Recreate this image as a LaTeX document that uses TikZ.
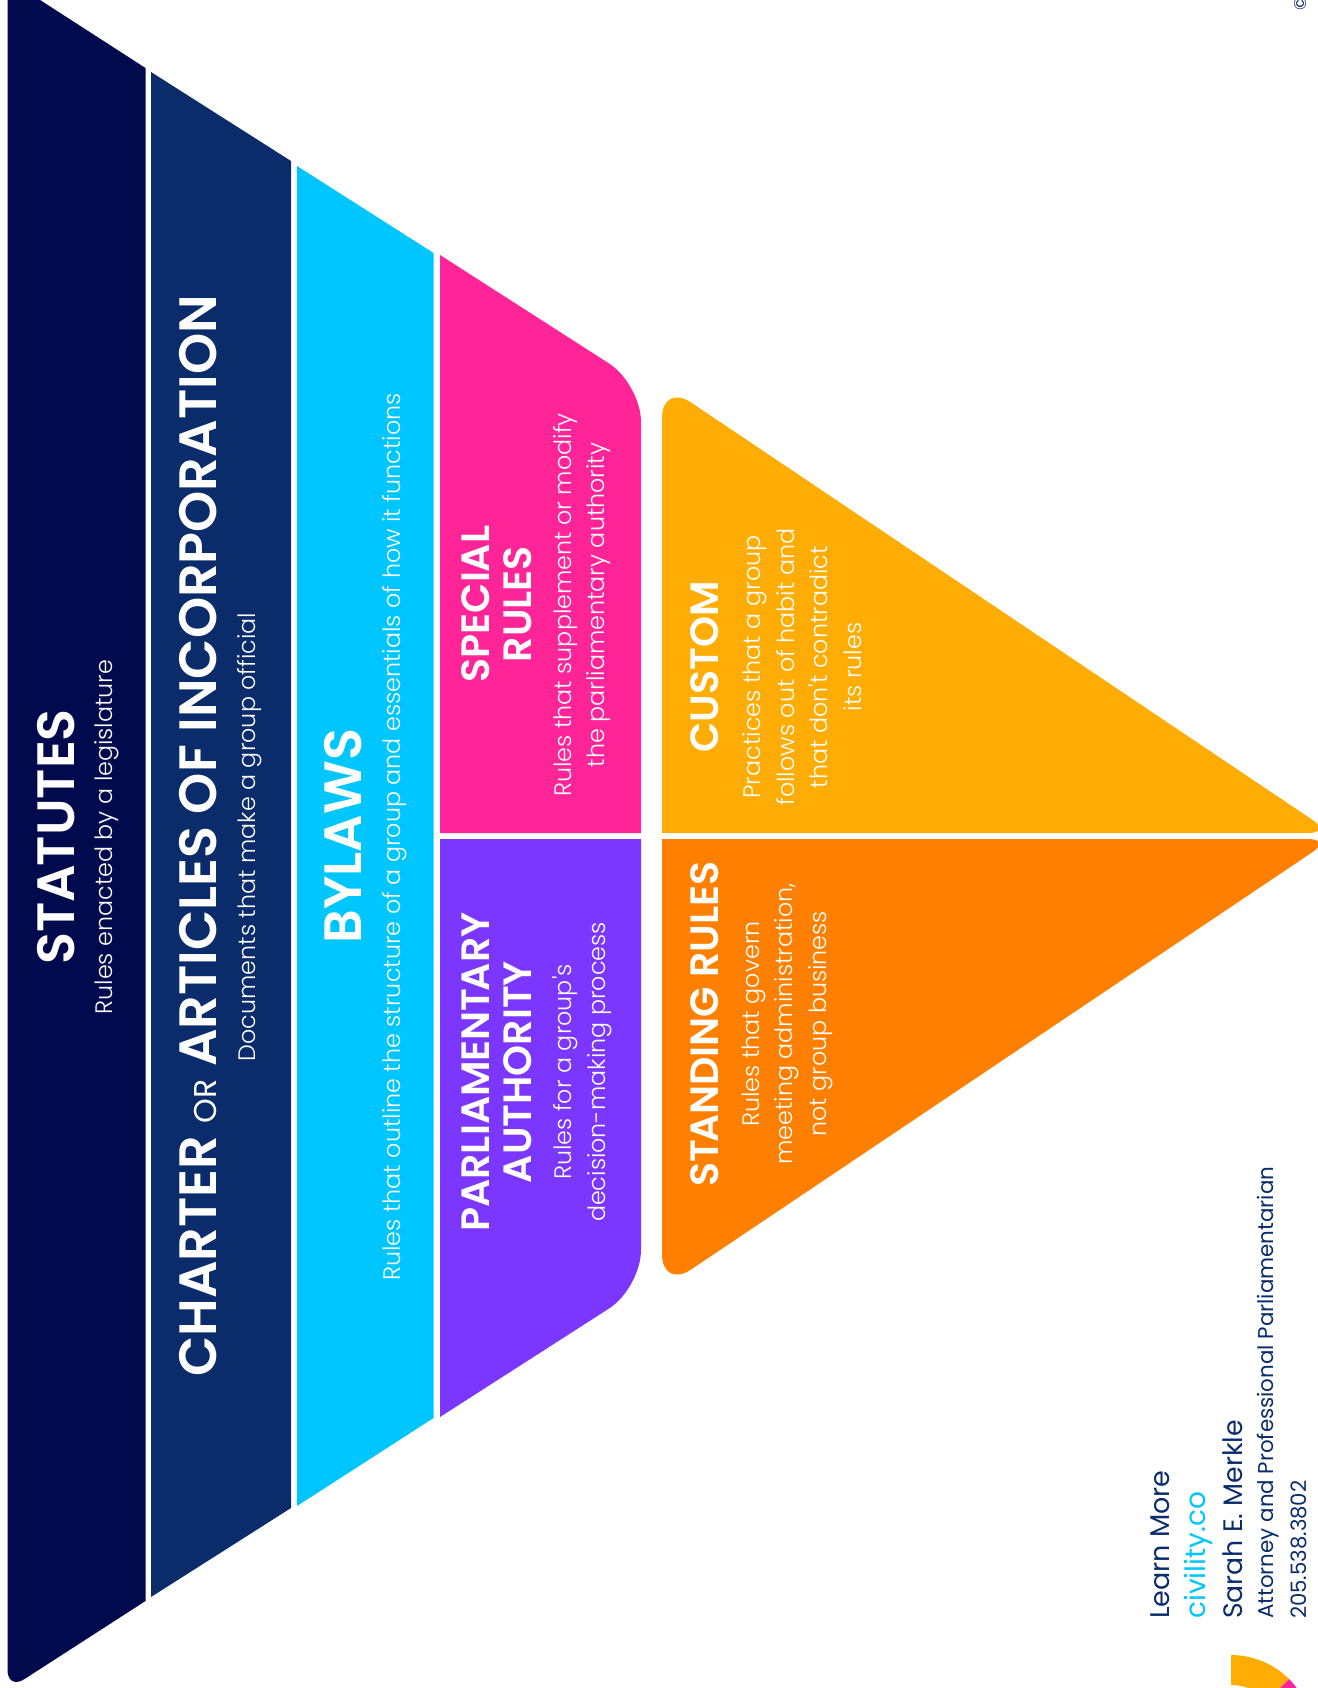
\documentclass[tikz,border=0pt]{standalone}
\usepackage{fontspec}
\setmainfont{Poppins}
\newfontfamily\headfont{Poppins SemiBold}
\newfontfamily\bodyfont{Poppins Light}
\newcommand{\tightTA}{T\kern-.07em A}
\definecolor{navydark}{HTML}{000A4D}
\definecolor{navymid}{HTML}{0A2C6B}
\definecolor{skyblue}{HTML}{00C6FF}
\definecolor{hotpink}{HTML}{FF2498}
\definecolor{violet}{HTML}{7B36FF}
\definecolor{amber}{HTML}{FFAC05}
\definecolor{deeporange}{HTML}{FF7F00}
\tikzset{
  head/.style={rotate=90, text=white, align=center, font=\headfont\fontsize{#1}{42}\selectfont, inner sep=0pt},
  body/.style={rotate=90, text=white, align=center, font=\bodyfont\fontsize{23.8}{33.5}\selectfont, inner sep=0pt},
  credit/.style={rotate=90, anchor=west, inner sep=0pt, text=navymid, font=\fontsize{#1}{#1}\selectfont},
}
\begin{document}
\begin{tikzpicture}[x=1pt, y=-1pt]
      \useasboundingbox (0,0) rectangle (1317,1688);

      \fill [navydark, rounded corners=20] (145.5,68) -- (7.5,-21) -- (7.5,1690) [sharp corners] -- (145.5,1601) -- cycle;
      \fill [navymid] (151,72) -- (291,161) -- (291,1508) -- (151,1597) -- cycle;
      \fill [skyblue] (297,166) -- (433.5,253) -- (433.5,1418) -- (297,1506) -- cycle;
      \fill [hotpink] (440,255) [rounded corners=38] -- (641,384) [sharp corners] -- (641,833) -- (440,833) -- cycle;
      \fill [violet] (440,839) -- (641,839) [rounded corners=38] -- (641,1288) [sharp corners] -- (440,1417) -- cycle;
      \fill [amber] (662,833) [rounded corners=35] -- (662,383) [rounded corners=24] -- (1332,833) [sharp corners] -- cycle;
      \fill [deeporange] (662,839) [rounded corners=24] -- (1332,839) [rounded corners=35] -- (662,1289) [sharp corners] -- cycle;

      \node [head=52.5] (statutes) at (56,837) {STA\kern-.02em TUTES};
      \node [body] (statutestext) at (107,837) {Rules enacted by a legislature};
      \node [head=52.5] (charter) at (198,836) {CHARTER {\normalfont\fontsize{31.5}{31.5}\selectfont OR} ARTICLES OF INCORPORATION};
      \node [body] (chartertext) at (250,837) {Documents that make a group official};
      \node [head=52.5] (bylaws) at (343,836) {BYLAWS};
      \node [body] (bylawstext) at (395,837) {Rules that outline the structure of a group and essentials of how it functions};
      \node [head=39.5] (special) at (497,604) {SPECIAL\\RULES};
      \node [body] (specialtext) at (582,605) {Rules that supplement or modify\\the parliamentary authority};
      \node [head=39.5] (parliamentary) at (497,1072) {PARLIAMEN\tightTA RY\\AUTHORITY};
      \node [body] (parliamentarytext) at (582,1072) {Rules for a group's\\decision-making process};
      \node [head=39.5] (custom) at (705,667) {CUSTOM};
      \node [body] (customtext) at (802,667) {Practices that a group\\follows out of habit and\\that don't contradict\\its rules};
      \node [head=39.5] (standing) at (705,1024) {S\tightTA NDING RULES};
      \node [body] (standingtext) at (787,1024) {Rules that govern\\meeting administration,\\not group business};

      \node [credit=27] (learn) at (1160,1619) {Learn More};
      \node [credit=28, text=skyblue] (site) at (1198,1619) {civility.co};
      \node [credit=26.7] (name) at (1233,1619) {Sarah E. Merkle};
      \node [credit=21.4] (title) at (1268,1619) {Attorney and Professional Parliamentarian};
      \node [credit=21.2] (phone) at (1299,1619) {205.538.3802};
      \node [rotate=90, text=navymid, inner sep=0pt, font=\fontsize{17}{17}\selectfont] (copy) at (1301,4) {\char"00A9};

      % ring cut off by the page
      \coordinate (ring) at (1231,1737);
      \fill [amber] (ring) ++(-90:82) arc [start angle=-90, end angle=-45, radius=82] -- ++(-45:-30) arc [start angle=-45, end angle=-90, radius=52] -- cycle;
      \fill [hotpink] (ring) ++(-45:82) arc [start angle=-45, end angle=-15, radius=82] -- ++(-15:-30) arc [start angle=-15, end angle=-45, radius=52] -- cycle;
\end{tikzpicture}
\end{document}
